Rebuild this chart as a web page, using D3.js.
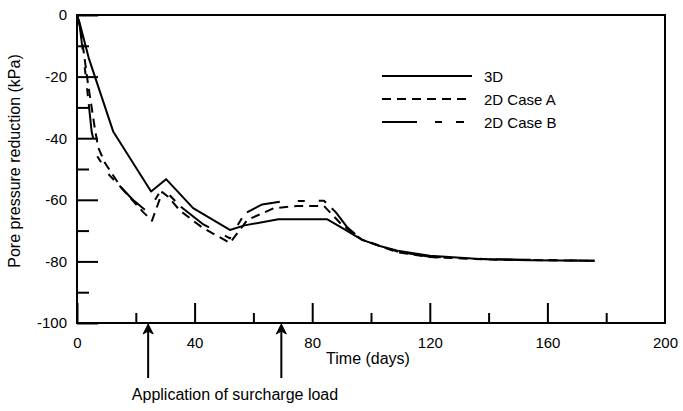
<!DOCTYPE html>
<html>
<head>
<meta charset="utf-8">
<script src="https://cdn.jsdelivr.net/npm/d3@7"></script>
<style>
  body { margin: 0; background: #fff; }
  text { font-family: "Liberation Sans", Arial, sans-serif; fill: #000; }
</style>
</head>
<body>
<div id="chart"></div>
<script>
var width = 683, height = 411;
var margin = {left: 77, top: 15, right: 18, bottom: 88};

// data (days, kPa)
var days3D  = [0, 1, 4, 12.3, 25.2, 30.3, 39.5, 52, 57, 68.5, 85, 90, 97, 103, 109, 120, 137, 154, 176];
var vals3D  = [0, -3, -14, -37.8, -57.3, -53.3, -62.7, -69.8, -68.3, -66.3, -66.3, -69, -73, -75, -76.5, -78.2, -79.2, -79.6, -79.8];
var daysA   = [0, 1, 3.7, 6.1, 7.2, 9.5, 15, 22.5, 25.5, 29, 31, 35, 42.6, 52, 58, 67, 75, 84, 90, 97, 109, 120, 140, 176];
var valsA   = [0, -3, -22, -37, -43, -48, -56, -64, -66.8, -57.5, -59, -63.5, -69, -74, -66.5, -62.7, -62, -62, -68, -73, -77, -78.6, -79.4, -79.8];
var daysB   = [0, 1, 3, 5, 7, 11, 19, 24, 28.5, 31, 35, 43, 52, 57, 63, 70, 84, 88, 92, 97, 109, 120, 140, 176];
var valsB   = [0, -4, -20, -38, -46, -52, -60, -64, -57, -58, -62, -68, -72.5, -64.5, -61.5, -60.5, -60.3, -64, -69, -73, -76.8, -78.5, -79.3, -79.8];
var seriesNames = ["3D", "2D Case A", "2D Case B"];
var dashes = [null, "9,6", "35,18,7,14,8,8"];
var xMajor = [0, 40, 80, 120, 160, 200];
var xMinor = [20, 60, 100, 140, 180];
var yMajor = [0, -20, -40, -60, -80, -100];
var yMinor = [-10, -30, -50, -70, -90];
var arrowDays = [24.2, 69.5];
var arrowText = "Application of surcharge load";

var x = d3.scaleLinear().domain([0, 200]).range([margin.left, width - margin.right]);
var y = d3.scaleLinear().domain([-100, 0]).range([height - margin.bottom, margin.top]);

// plain hyphen for negatives, like the original
function fmt(d) { return String(d); }

var svg = d3.select("#chart").append("svg")
    .attr("width", width)
    .attr("height", height);

var series = [
  {name: seriesNames[0], pts: d3.zip(days3D, vals3D), dash: dashes[0]},
  {name: seriesNames[1], pts: d3.zip(daysA, valsA), dash: dashes[1]},
  {name: seriesNames[2], pts: d3.zip(daysB, valsB), dash: dashes[2]}
];

var line = d3.line()
    .x(function(d) { return x(d[0]); })
    .y(function(d) { return y(d[1]); });

// curves
svg.selectAll("path.curve")
  .data(series)
  .enter().append("path")
  .attr("class", "curve")
  .attr("d", function(d) { return line(d.pts); })
  .attr("fill", "none")
  .attr("stroke", "#000")
  .attr("stroke-width", 2)
  .attr("stroke-linejoin", "round")
  .attr("stroke-dasharray", function(d) { return d.dash; });

// frame
svg.append("rect")
  .attr("x", x(0)).attr("y", y(0))
  .attr("width", x(200) - x(0)).attr("height", y(-100) - y(0))
  .attr("fill", "none").attr("stroke", "#000").attr("stroke-width", 2);

// x axis ticks (inward)
var xAxis = d3.axisBottom(x).tickValues(xMajor).tickSize(-20).tickPadding(14)
    .tickFormat(fmt);
var gx = svg.append("g").attr("transform", "translate(0," + y(-100) + ")").call(xAxis);
gx.select(".domain").remove();
gx.selectAll(".tick line").attr("stroke-width", 2);
gx.selectAll(".tick text").attr("font-size", 15).attr("font-family", "Liberation Sans, Arial, sans-serif");
gx.selectAll(".tick").filter(function(d) { return d === 200; }).select("line").remove();

var gxm = svg.append("g").attr("transform", "translate(0," + y(-100) + ")")
  .call(d3.axisBottom(x).tickValues(xMinor).tickSize(-10).tickFormat(""));
gxm.select(".domain").remove();
gxm.selectAll(".tick line").attr("stroke-width", 2);

// y axis ticks (inward)
var yAxis = d3.axisLeft(y).tickValues(yMajor).tickSize(-21).tickPadding(10)
    .tickFormat(fmt);
var gy = svg.append("g").attr("transform", "translate(" + x(0) + ",0)").call(yAxis);
gy.select(".domain").remove();
gy.selectAll(".tick line").attr("stroke-width", 2);
gy.selectAll(".tick text").attr("font-size", 15).attr("font-family", "Liberation Sans, Arial, sans-serif");

var gym = svg.append("g").attr("transform", "translate(" + x(0) + ",0)")
  .call(d3.axisLeft(y).tickValues(yMinor).tickSize(-12).tickFormat(""));
gym.select(".domain").remove();
gym.selectAll(".tick line").attr("stroke-width", 2);

// axis titles
svg.append("text")
  .attr("x", 368).attr("y", 364)
  .attr("text-anchor", "middle").attr("font-size", 16)
  .text("Time (days)");

svg.append("text")
  .attr("transform", "translate(20,161) rotate(-90)")
  .attr("text-anchor", "middle").attr("font-size", 16)
  .text("Pore pressure reduction (kPa)");

// legend
var legend = svg.append("g").attr("transform", "translate(382,76)");
var rows = legend.selectAll("g").data(series).enter().append("g")
  .attr("transform", function(d, i) { return "translate(0," + i * 23 + ")"; });
rows.append("line")
  .attr("x1", 0).attr("x2", 90).attr("y1", 0).attr("y2", 0)
  .attr("stroke", "#000").attr("stroke-width", 2)
  .attr("stroke-dasharray", function(d) { return d.dash; });
rows.append("text")
  .attr("x", 102).attr("y", 5.5).attr("font-size", 15)
  .text(function(d) { return d.name; });

// surcharge arrows
var ax = svg.append("g");
arrowDays.forEach(function(dd) {
  var px = x(dd), top = y(-100) + 1;
  ax.append("line")
    .attr("x1", px).attr("x2", px).attr("y1", top + 6).attr("y2", 378)
    .attr("stroke", "#000").attr("stroke-width", 2);
  ax.append("path")
    .attr("d", "M" + px + "," + top + "L" + (px - 5) + "," + (top + 10) + "L" + px + "," + (top + 7) + "L" + (px + 5) + "," + (top + 10) + "Z")
    .attr("fill", "#000").attr("stroke", "#000").attr("stroke-width", 1);
});
svg.append("text")
  .attr("x", 235).attr("y", 400)
  .attr("text-anchor", "middle").attr("font-size", 16)
  .text(arrowText);
</script>
</body>
</html>
